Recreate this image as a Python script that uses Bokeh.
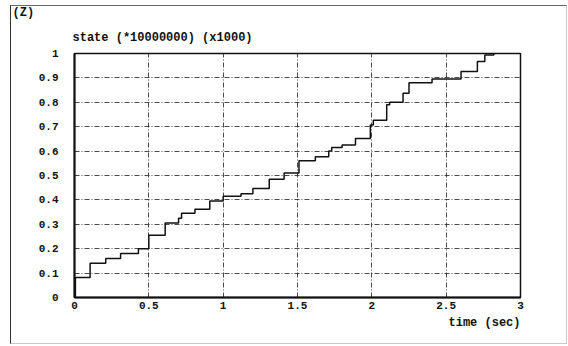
from bokeh.plotting import figure
from bokeh.models import Range1d, FixedTicker, Title
from bokeh.embed import file_html
from bokeh.resources import INLINE

# Step times (sec) and state values after each step (normalised, x1000 scale)
step_time = [0.0, 0.006, 0.105, 0.21, 0.31, 0.43, 0.50, 0.61, 0.70, 0.72,
             0.81, 0.91, 1.00, 1.12, 1.20, 1.31, 1.41, 1.51, 1.62, 1.71,
             1.73, 1.80, 1.89, 1.99, 2.01, 2.10, 2.12, 2.21, 2.25, 2.405,
             2.60, 2.71, 2.76, 2.82]
step_state = [0.0, 0.082, 0.14, 0.16, 0.18, 0.20, 0.255, 0.305, 0.325, 0.345,
              0.362, 0.395, 0.415, 0.425, 0.447, 0.485, 0.51, 0.56, 0.577, 0.60,
              0.615, 0.625, 0.652, 0.707, 0.726, 0.79, 0.80, 0.837, 0.88, 0.895,
              0.926, 0.967, 0.994, 1.0]
end_time = 2.83

x_ticks = [0, 0.5, 1, 1.5, 2, 2.5, 3]
x_tick_labels = ["0", "0.5", "1", "1.5", "2", "2.5", "3"]
y_ticks = [0, 0.1, 0.2, 0.3, 0.4, 0.5, 0.6, 0.7, 0.8, 0.9, 1]
y_tick_labels = ["0", "0.1", "0.2", "0.3", "0.4", "0.5", "0.6", "0.7", "0.8", "0.9", "1"]

MONO = "Liberation Mono"
INK = "#111111"

# thin page frame drawn around the whole figure
page_css = """
:host { position: relative; }
:host::after {
  content: "";
  position: absolute;
  left: 10px; top: 5px; width: 555px; height: 337px;
  border-left: 1.5px solid #333333;
  border-top: 1px solid #666666;
  border-right: 1px solid #c8c8c8;
  border-bottom: 1px solid #c8c8c8;
  pointer-events: none;
}
"""

p = figure(width=568, height=346, output_backend="svg", toolbar_location=None,
           x_range=Range1d(0, 3), y_range=Range1d(0, 1),
           min_border_left=74, min_border_right=48,
           min_border_top=53, min_border_bottom=49)
p.stylesheets = [page_css]
p.background_fill_color = "white"
p.border_fill_color = "white"
p.outline_line_color = INK
p.outline_line_width = 1.5

for ax, ticks, labels in ((p.xaxis[0], x_ticks, x_tick_labels),
                          (p.yaxis[0], y_ticks, y_tick_labels)):
    ax.ticker = FixedTicker(ticks=ticks)
    ax.major_label_overrides = {t: s for t, s in zip(ticks, labels)}
    ax.major_tick_out = 0
    ax.major_tick_in = 0
    ax.minor_tick_out = 0
    ax.minor_tick_in = 0
    ax.axis_line_color = INK
    ax.axis_line_width = 2
    ax.major_label_text_font = MONO
    ax.major_label_text_font_style = "bold"
    ax.major_label_text_font_size = "11px"
    ax.major_label_text_color = INK

p.xaxis.major_label_standoff = 4
p.yaxis.major_label_standoff = 16

for g in (p.xgrid[0], p.ygrid[0]):
    g.grid_line_color = "#2a2a2a"
    g.grid_line_dash = "5 2 1 2"
    g.grid_line_width = 1
    g.grid_line_alpha = 0.85
p.xgrid.ticker = FixedTicker(ticks=x_ticks)
p.ygrid.ticker = FixedTicker(ticks=y_ticks)

# staircase trace of the state
xs = step_time + [end_time]
ys = step_state + [step_state[-1]]
p.step(xs, ys, mode="after", line_color=INK, line_width=1.5)

def style_title(t):
    t.text_font = MONO
    t.text_font_style = "bold"
    t.text_font_size = "12px"
    t.text_color = INK
    return t

p.title.text = "(Z)"
style_title(p.title)
p.title.align = "left"
p.title.offset = -62
p.title.standoff = 0

p.add_layout(style_title(Title(text="state (*10000000) (x1000)", align="left",
                               offset=-2, standoff=18)), "above")
p.add_layout(style_title(Title(text="time (sec)", align="right", offset=0, standoff=4)), "below")

open("out.html", "w").write(file_html(p, INLINE))
